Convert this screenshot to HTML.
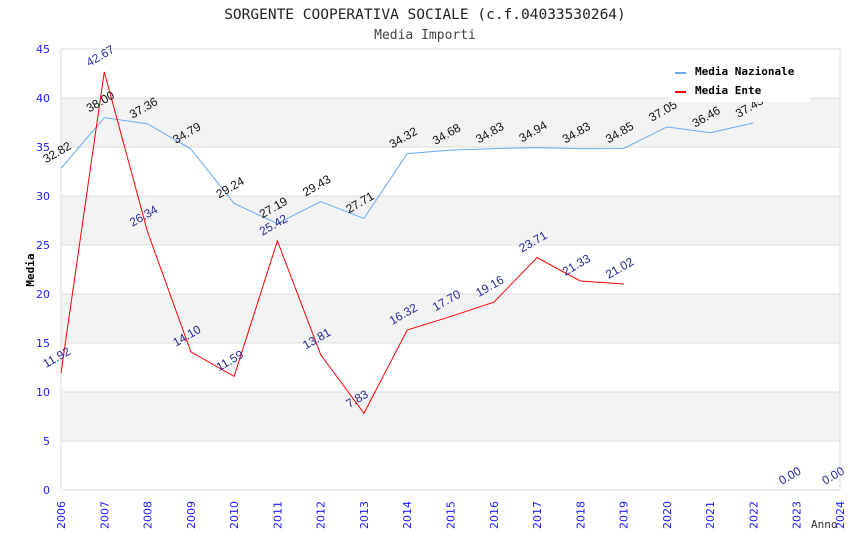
<!DOCTYPE html>
<html><head><meta charset="utf-8"><style>
body{margin:0;background:#fff;}
svg{display:block;font-family:"DejaVu Sans","Liberation Sans",sans-serif;}
</style></head><body>
<svg id="chart" width="850" height="550" xmlns="http://www.w3.org/2000/svg">
<text x="425" y="19" text-anchor="middle" font-family="DejaVu Sans Mono, monospace" font-size="14.5" fill="#222">SORGENTE COOPERATIVA SOCIALE (c.f.04033530264)</text>
<text x="425" y="39" text-anchor="middle" font-family="DejaVu Sans Mono, monospace" font-size="13" fill="#444">Media Importi</text>
<g id="bands"></g>
<g id="grid"></g>
<g id="series"></g>
<g id="labels"></g>
<g id="axes"></g>
<text transform="translate(34,270) rotate(-90)" text-anchor="middle" font-family="DejaVu Sans Mono, monospace" font-weight="bold" font-size="11" fill="#000">Media</text>
<text x="811" y="528" font-family="DejaVu Sans Mono, monospace" font-size="11" fill="#333">Anno</text>
<g>
<rect x="668" y="57" width="142" height="45" fill="#fff"/>
<rect x="675" y="72" width="11" height="2" fill="#6aaaf0"/>
<text x="695" y="75" font-family="DejaVu Sans Mono, monospace" font-weight="bold" font-size="11" fill="#000">Media Nazionale</text>
<rect x="675" y="91" width="11" height="2" fill="#ff0000"/>
<text x="695" y="94" font-family="DejaVu Sans Mono, monospace" font-weight="bold" font-size="11" fill="#000">Media Ente</text>
</g>
</svg>
<script>
const years=[2006,2007,2008,2009,2010,2011,2012,2013,2014,2015,2016,2017,2018,2019,2020,2021,2022,2023,2024];
const nazionale=[32.82,38.00,37.36,34.79,29.24,27.19,29.43,27.71,34.32,34.68,34.83,34.94,34.83,34.85,37.05,36.46,37.45];
const ente=[11.92,42.67,26.34,14.10,11.59,25.42,13.81,7.83,16.32,17.70,19.16,23.71,21.33,21.02];
const enteZeroYears=[2023,2024];
const yTicks=[0,5,10,15,20,25,30,35,40,45];
const NS="http://www.w3.org/2000/svg";
const X0=61,X1=840,Y0=490,Y1=49,YMAX=45;
const xs=i=>X0+(X1-X0)*(years[i]-years[0])/(years[years.length-1]-years[0]);
const xy=yr=>X0+(X1-X0)*(yr-years[0])/(years[years.length-1]-years[0]);
const ys=v=>Y0-(Y0-Y1)*v/YMAX;
function mk(tag,attrs,parent){const e=document.createElementNS(NS,tag);for(const k in attrs)e.setAttribute(k,attrs[k]);document.getElementById(parent).appendChild(e);return e;}
for(let i=0;i<yTicks.length-1;i++){
  if(i%2===1){const r=mk('rect',{x:X0,y:ys(yTicks[i+1]),width:X1-X0,height:ys(yTicks[i])-ys(yTicks[i+1]),fill:'#f3f3f3'},'bands');
  
  }
}
yTicks.forEach(t=>{
  const l=mk('line',{x1:X0,x2:X1,y1:ys(t),y2:ys(t),stroke:'#dcdcdc','stroke-width':1},'grid');
  
  
  const tx=mk('text',{x:50,y:ys(t)+4,'text-anchor':'end','font-size':11,fill:'#1a1aff'},'axes');
  tx.textContent=t;
  
  
});
const bl=mk('line',{x1:X0,x2:X0,y1:Y1,y2:Y0,stroke:'#dcdcdc'},'grid');


const br=mk('line',{x1:X1,x2:X1,y1:Y1,y2:Y0,stroke:'#dcdcdc'},'grid');


years.forEach((yr,i)=>{
  const t=mk('text',{transform:`translate(${xs(i)+4},${529}) rotate(-90)`,'font-size':11,fill:'#1a1aff'},'axes');
  t.textContent=yr;
  
  
});
function series(vals,color,name,lblColor){
  const pts=vals.map((v,i)=>xs(i)+','+ys(v)).join(' ');
  const p=mk('polyline',{points:pts,fill:'none',stroke:color,'stroke-width':1},'series');
  
  
  vals.forEach((v,i)=>{
    const t=mk('text',{transform:`translate(${xs(i)-15},${ys(v)-5}) rotate(-30)`,'font-size':12,'font-family':'Liberation Sans, sans-serif',fill:lblColor},'labels');
    t.textContent=v.toFixed(2);
    
    
  });
}
series(nazionale,'#6aaaf0','nazionale','#111');
series(ente,'#ff0000','ente','#2a2a9a');
enteZeroYears.forEach(yr=>{
  const t=mk('text',{transform:`translate(${xy(yr)-15},${ys(0)-5}) rotate(-30)`,'font-size':12,'font-family':'Liberation Sans, sans-serif',fill:'#2a2a9a'},'labels');
  t.textContent=(0).toFixed(2);
  
  
});
</script>
</body></html>
